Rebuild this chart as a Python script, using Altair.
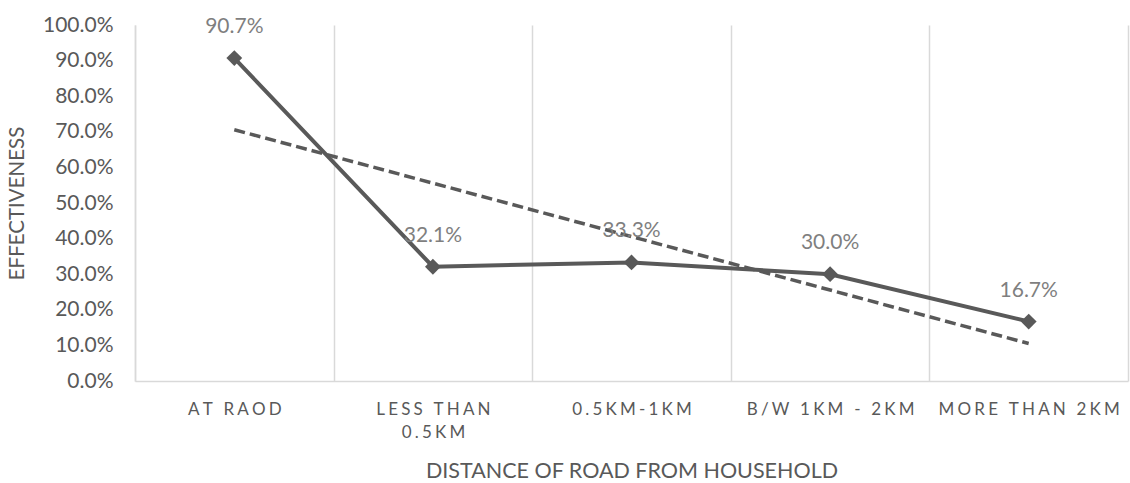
import json
import altair as alt
import pandas as pd

# Tick label lines per distance band (wrapped the way they are printed)
tick_lines = [
    ["AT RAOD"],
    ["LESS THAN", "0.5KM"],
    ["0.5KM-1KM"],
    ["B/W 1KM - 2KM"],
    ["MORE THAN 2KM"],
]
categories = [" ".join(lines) for lines in tick_lines]
effectiveness = [0.907, 0.321, 0.333, 0.300, 0.167]

df = pd.DataFrame({
    "idx": list(range(len(categories))),
    "category": categories,
    "value": effectiveness,
})

FONT = "Lato"
DARK = "#595959"
GRID = "#d9d9d9"


def spaced(text):
    # widen tracking with thin + hair spaces between characters
    return "\u2009\u200a".join(text)


# Vega expression turning each category into its letter-spaced, wrapped label
label_expr = "datum.label"
for cat, lines in reversed(list(zip(categories, tick_lines))):
    out = [spaced(l) for l in lines]
    out_js = json.dumps(out if len(out) > 1 else out[0], ensure_ascii=False)
    label_expr = f"datum.label === {json.dumps(cat, ensure_ascii=False)} ? {out_js} : ({label_expr})"

x_enc = alt.X(
    "category:N",
    sort=categories,
    scale=alt.Scale(type="band", domain=categories, paddingInner=0, paddingOuter=0),
    axis=alt.Axis(
        title="DISTANCE OF ROAD FROM HOUSEHOLD",
        labelAngle=0,
        labelExpr=label_expr,
        labelFont=FONT,
        labelFontSize=17,
        labelColor=DARK,
        labelPadding=20,
        labelLineHeight=23,
        labelLimit=400,
        ticks=False,
        tickSize=0,
        tickBand="extent",
        grid=True,
        gridColor=GRID,
        gridWidth=1.5,
        domainColor=GRID,
        domainWidth=1.5,
        titleFont=FONT,
        titleFontSize=21.5,
        titleFontWeight="normal",
        titleColor=DARK,
        titlePadding=20,
    ),
)

y_enc = alt.Y(
    "value:Q",
    scale=alt.Scale(domain=[0, 1], nice=False, zero=True),
    axis=alt.Axis(
        title="EFFECTIVENESS",
        format=".1%",
        values=[i / 10 for i in range(11)],
        grid=False,
        ticks=False,
        tickSize=0,
        labelFont=FONT,
        labelFontSize=21,
        labelColor=DARK,
        labelPadding=22,
        domainColor=GRID,
        domainWidth=1.5,
        titleFont=FONT,
        titleFontSize=20.5,
        titleFontWeight="normal",
        titleColor=DARK,
        titlePadding=15,
    ),
)

base = alt.Chart(df)

line = base.mark_line(color=DARK, strokeWidth=4).encode(x=x_enc, y=y_enc)

points = base.mark_point(
    shape="diamond", filled=True, size=250, color=DARK, opacity=1
).encode(x=x_enc, y=y_enc)

labels = base.mark_text(
    dy=-31, font=FONT, fontSize=21, color="#7f7f7f"
).encode(x=x_enc, y=y_enc, text=alt.Text("value:Q", format=".1%"))

trend = (
    base.transform_regression("idx", "value", method="linear")
    .transform_lookup(
        lookup="idx",
        from_=alt.LookupData(data=df, key="idx", fields=["category"]),
    )
    .mark_line(color=DARK, strokeWidth=3.5, strokeDash=[11, 5])
    .encode(x=x_enc, y=y_enc)
)

chart = (
    alt.layer(trend, line, points, labels)
    .properties(
        width=993,
        height=356,
        autosize=alt.AutoSizeParams(type="none"),
        padding={"left": 135, "top": 25, "right": 2, "bottom": 102},
        background="white",
    )
    .configure_view(stroke=None)
)

chart.save("out.html", embed_options={"renderer": "svg", "actions": False})
